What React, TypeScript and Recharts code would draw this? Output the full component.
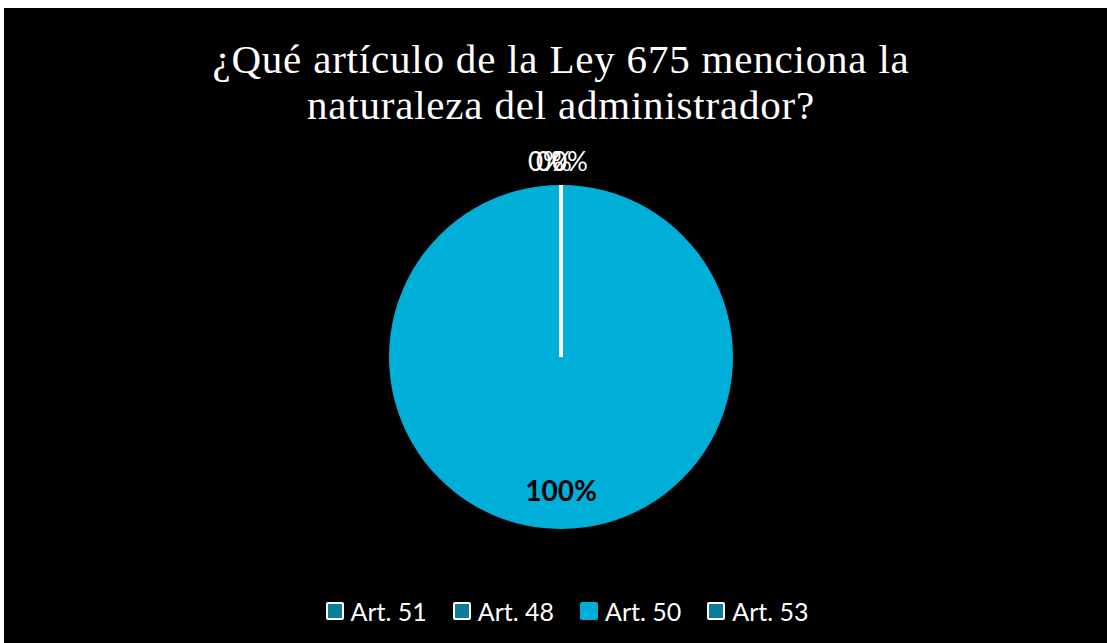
import { PieChart, Pie, Cell, Legend } from "recharts";

const categories = ["Art. 51", "Art. 48", "Art. 50", "Art. 53"];
const values = [0, 0, 100, 0];
const colors = ["#0c7c98", "#0c7c98", "#00afd8", "#0c7c98"];

const titleLines = [
  "¿Qué artículo de la Ley 675 menciona la",
  "naturaleza del administrador?",
];

const data = categories.map((name, i) => ({ name, value: values[i] }));
const total = values.reduce((a, b) => a + b, 0);

const RADIAN = Math.PI / 180;

// zero slices get no sector path from recharts, so the label draws their white edge line
function renderLabel(props: any) {
  const { cx, cy, midAngle, outerRadius, value, index } = props;
  const pct = Math.round((value / total) * 100) + "%";
  if (value === 0) {
    const cos = Math.cos(-midAngle * RADIAN);
    const sin = Math.sin(-midAngle * RADIAN);
    const r = outerRadius + 24;
    const x = cx + r * cos - 15 + index * 8;
    const y = cy + r * sin;
    return (
      <g key={"l" + index}>
        <line
          x1={cx}
          y1={cy}
          x2={cx + outerRadius * cos}
          y2={cy + outerRadius * sin}
          stroke="#ffffff"
          strokeWidth={3.5}
        />
        <text
          x={x}
          y={y}
          fill="#ffffff"
          fontSize={26}
          fontFamily="Lato, sans-serif"
          textAnchor="middle"
          dominantBaseline="central"
        >
          {pct}
        </text>
      </g>
    );
  }
  return (
    <text
      key={"l" + index}
      x={cx}
      y={cy + outerRadius * 0.775}
      fill="#000000"
      fontSize={28}
      fontWeight="bold"
      fontFamily="Lato, sans-serif"
      textAnchor="middle"
      dominantBaseline="central"
    >
      {pct}
    </text>
  );
}

function LegendContent() {
  return (
    <div
      style={{
        display: "flex",
        justifyContent: "center",
        gap: 26,
        fontFamily: "Lato, sans-serif",
        fontSize: 25,
        color: "#ffffff",
      }}
    >
      {data.map((d, i) => (
        <div key={d.name} style={{ display: "flex", alignItems: "center" }}>
          <span
            style={{
              display: "inline-block",
              boxSizing: "border-box",
              width: 18,
              height: 18,
              background: colors[i],
              border: d.value === 0 ? "2.5px solid #ffffff" : "none",
              borderRadius: 2,
              marginRight: 7,
            }}
          />
          <span>{d.name}</span>
        </div>
      ))}
    </div>
  );
}

export default function App() {
  return (
    <div
      style={{
        position: "absolute",
        left: 4,
        top: 8,
        width: 1103,
        height: 635,
        background: "#000000",
      }}
    >
      <div
        style={{
          position: "absolute",
          top: 28,
          left: 0,
          width: 1114,
          textAlign: "center",
          fontFamily: "'Liberation Serif', serif",
          fontSize: 41,
          letterSpacing: 0.8,
          lineHeight: "46px",
          color: "#ffffff",
        }}
      >
        {titleLines.map((t) => (
          <div key={t}>{t}</div>
        ))}
      </div>
      <PieChart
        width={1103}
        height={635}
        margin={{ top: 0, right: 0, bottom: 0, left: 0 }}
        style={{ position: "absolute", top: 0, left: 0 }}
      >
        <Pie
          data={data}
          dataKey="value"
          nameKey="name"
          cx={557}
          cy={349}
          outerRadius={172}
          startAngle={90}
          endAngle={-270}
          label={renderLabel}
          labelLine={false}
          stroke="none"
          isAnimationActive={false}
        >
          {data.map((d, i) => (
            <Cell key={d.name} fill={colors[i]} />
          ))}
        </Pie>
        <Legend
          content={<LegendContent />}
          wrapperStyle={{ top: 588, left: 0, width: 1126 }}
        />
      </PieChart>
    </div>
  );
}
